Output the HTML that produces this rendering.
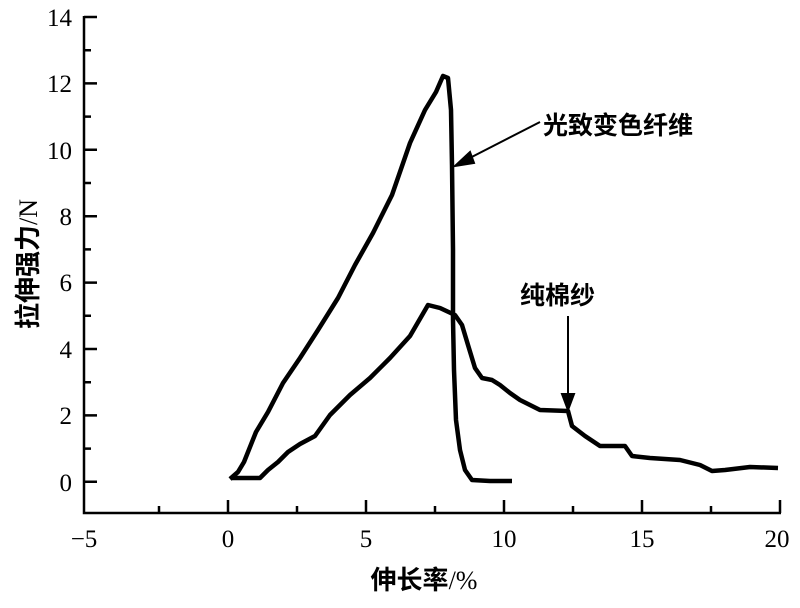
<!DOCTYPE html>
<html><head><meta charset="utf-8"><style>
html,body{margin:0;padding:0;background:#fff;}
</style></head><body>
<svg width="800" height="603" viewBox="0 0 800 603" xmlns="http://www.w3.org/2000/svg">
<g stroke="#000" stroke-width="2.5" fill="none">
<polyline points="84,16 84,513 781,513"/>
<path d="M84,17h13M84,83.4h13M84,149.8h13M84,216.2h13M84,282.6h13M84,349h13M84,415.4h13M84,481.8h13"/>
<path d="M84,50.2h7M84,116.6h7M84,183h7M84,249.4h7M84,315.8h7M84,382.2h7M84,448.6h7"/>
<path d="M228,513v-13M366,513v-13M504,513v-13M642,513v-13M780,513v-13"/>
<path d="M159,513v-7M297,513v-7M435,513v-7M573,513v-7M711,513v-7"/>
</g>
<g font-family="Liberation Serif, serif" font-size="25" fill="#000" text-anchor="end">
<text x="72" y="26">14</text><text x="72" y="92">12</text><text x="72" y="159">10</text>
<text x="72" y="225">8</text><text x="72" y="291">6</text><text x="72" y="358">4</text>
<text x="72" y="424">2</text><text x="72" y="491">0</text>
</g>
<g font-family="Liberation Serif, serif" font-size="25" fill="#000" text-anchor="middle">
<text x="84" y="547">−5</text><text x="228" y="547">0</text><text x="366" y="547">5</text>
<text x="504" y="547">10</text><text x="642" y="547">15</text><text x="777" y="547">20</text>
</g>
<text x="424" y="589" text-anchor="middle" font-family="Liberation Serif, 'Noto Sans CJK SC', sans-serif" font-size="26" font-weight="bold">伸长率<tspan font-weight="normal">/%</tspan></text>
<text transform="translate(37,264) rotate(-90)" text-anchor="middle" font-family="Liberation Serif, 'Noto Sans CJK SC', sans-serif" font-size="26" font-weight="bold">拉伸强力<tspan font-weight="normal">/N</tspan></text>
<g stroke="#000" stroke-width="4.5" fill="none" stroke-linejoin="round">
<polyline points="230,479 238,472 244,462 256,432 268,412 283,383 300,358 318,330 338,298 355,265 373,233 392,195 410,143 425,110 436,92 443,76 448,78 451,110 452,165 453,250 453,320 454,370 456,420 460,450 465,470 472,480 490,481 512,481"/>
<polyline points="232,478 260,478 268,470 278,462 288,452 300,444 315,436 330,415 350,395 370,378 390,358 410,336 428,305 440,308 455,315 462,325 468,345 475,368 482,378 492,380 500,385 510,393 520,400 540,410 568,411 572,426 585,436 600,446 625,446 632,456 650,458 680,460 700,465 712,471 725,470 750,467 778,468"/>
</g>
<g font-family="Liberation Sans, 'Noto Sans CJK SC', sans-serif" font-size="25" font-weight="bold" fill="#000">
<text x="543" y="134">光致变色纤维</text>
<text x="520" y="304">纯棉纱</text>
</g>
<g stroke="#000" stroke-width="2" fill="#000">
<line x1="540" y1="122" x2="462" y2="162"/>
<polygon points="455,166 470,152 474,163"/>
<line x1="568" y1="316" x2="568" y2="398"/>
<polygon points="568,410 562,394 574,394"/>
</g>
</svg>
</body></html>
